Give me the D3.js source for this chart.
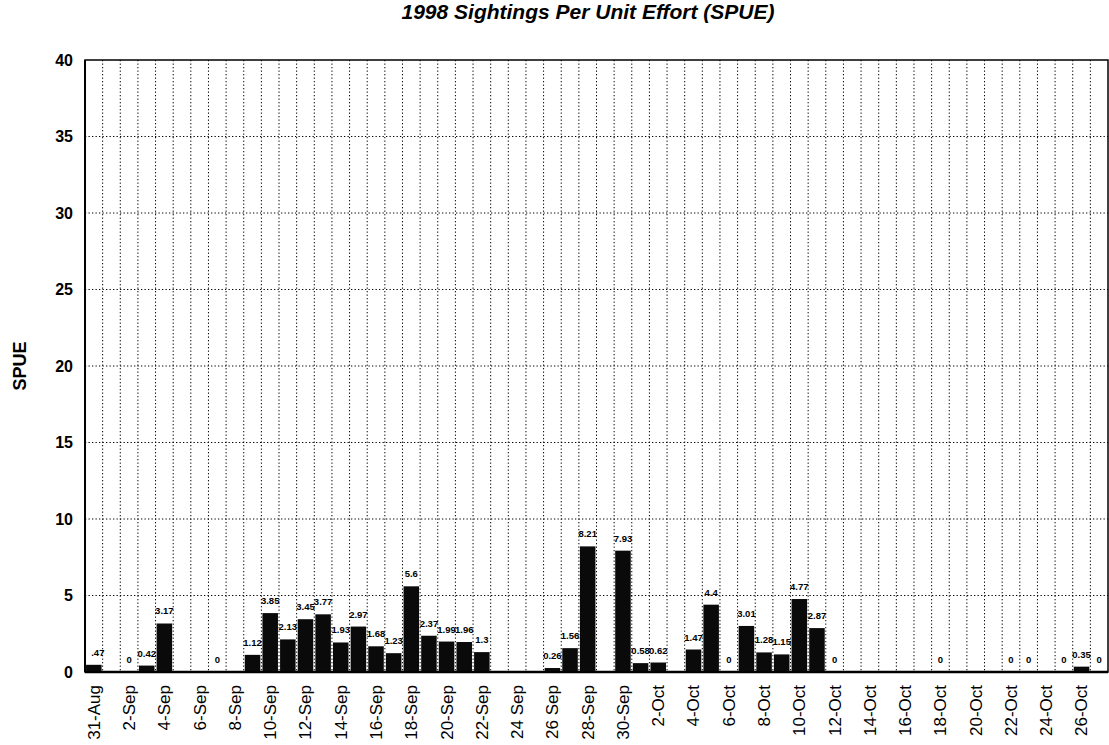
<!DOCTYPE html>
<html lang='en'>
  <head>
    <meta charset="utf-8">
    <style>
      body { margin: 0; background: #ffffff; }
      text { font-family: "Liberation Sans", Arial, sans-serif; fill: #000000; }
    </style>
    <title>1998 SPUE</title>
    <script src="https://d3js.org/d3.v7.min.js"></script>
  </head>
  <body>
    <div id="chart"></div>
  <script>
    // one slot per day, 31-Aug to 27-Oct
    var days = ["31-Aug","1-Sep","2-Sep","3-Sep","4-Sep","5-Sep","6-Sep","7-Sep","8-Sep","9-Sep",
                "10-Sep","11-Sep","12-Sep","13-Sep","14-Sep","15-Sep","16-Sep","17-Sep","18-Sep","19-Sep",
                "20-Sep","21-Sep","22-Sep","23-Sep","24 Sep","25-Sep","26 Sep","27-Sep","28-Sep","29-Sep",
                "30-Sep","1-Oct","2-Oct","3-Oct","4-Oct","5-Oct","6-Oct","7-Oct","8-Oct","9-Oct",
                "10-Oct","11-Oct","12-Oct","13-Oct","14-Oct","15-Oct","16-Oct","17-Oct","18-Oct","19-Oct",
                "20-Oct","21-Oct","22-Oct","23-Oct","24-Oct","25-Oct","26-Oct","27-Oct"];

    // SPUE per day (null = no survey that day)
    var spue = [0.47, null, 0, 0.42, 3.17, null, null, 0, null, 1.12,
                3.85, 2.13, 3.45, 3.77, 1.93, 2.97, 1.68, 1.23, 5.6, 2.37,
                1.99, 1.96, 1.3, null, null, null, 0.26, 1.56, 8.21, null,
                7.93, 0.58, 0.62, null, 1.47, 4.4, 0, 3.01, 1.28, 1.15,
                4.77, 2.87, 0, null, null, null, null, null, 0, null,
                null, null, 0, 0, null, 0, 0.35, 0];

    // value labels as printed over the bars
    var valueLabels = [".47", "", "0", "0.42", "3.17", "", "", "0", "", "1.12",
                "3.85", "2.13", "3.45", "3.77", "1.93", "2.97", "1.68", "1.23", "5.6", "2.37",
                "1.99", "1.96", "1.3", "", "", "", "0.26", "1.56", "8.21", "",
                "7.93", "0.58", "0.62", "", "1.47", "4.4", "0", "3.01", "1.28", "1.15",
                "4.77", "2.87", "0", "", "", "", "", "", "0", "",
                "", "", "0", "0", "", "0", "0.35", "0"];

    var yTicks = [0, 5, 10, 15, 20, 25, 30, 35, 40];

    var margin = {top: 60, right: 1, bottom: 73, left: 85},
        width = 1109 - margin.left - margin.right,
        height = 745 - margin.top - margin.bottom;

    var svg = d3.select("#chart")
      .append("svg")
        .attr("width", 1109)
        .attr("height", 745);

    var g = svg.append("g")
        .attr("transform", "translate(" + margin.left + "," + margin.top + ")");

    var x = d3.scaleBand()
      .domain(days)
      .range([0, width])
      .paddingInner(0.12)
      .paddingOuter(0.06);

    var y = d3.scaleLinear()
      .domain([0, 40])
      .range([height, 0]);

    var step = x.step();

    // dotted grid: horizontal every 5, vertical between days
    g.selectAll("hgrid")
      .data(yTicks.slice(1, -1))
      .enter()
      .append("line")
        .attr("x1", 0).attr("x2", width)
        .attr("y1", function(d) { return y(d) })
        .attr("y2", function(d) { return y(d) })
        .attr("stroke", "#000")
        .attr("stroke-width", 1)
        .attr("stroke-dasharray", "1.3,2.2");

    g.selectAll("vgrid")
      .data(days.slice(1))
      .enter()
      .append("line")
        .attr("x1", function(d) { return x(d) - step * 0.06 })
        .attr("x2", function(d) { return x(d) - step * 0.06 })
        .attr("y1", 0).attr("y2", height)
        .attr("stroke", "#000")
        .attr("stroke-width", 1)
        .attr("stroke-dasharray", "1.3,2.2");

    // bars and their labels, drawn day by day
    var rows = days.map(function(d, i) { return {day: d, value: spue[i], label: valueLabels[i]} });

    var cell = g.selectAll("cells")
      .data(rows)
      .enter()
      .append("g");

    cell.filter(function(d) { return d.value !== null && d.value > 0 })
      .append("rect")
        .attr("x", function(d) { return x(d.day) })
        .attr("width", x.bandwidth())
        .attr("y", function(d) { return y(d.value) })
        .attr("height", function(d) { return height - y(d.value) })
        .attr("fill", "#0a0a0a");

    cell.filter(function(d) { return d.label !== "" })
      .append("text")
        .attr("x", function(d) { return x(d.day) + x.bandwidth() / 2 + (d.label === ".47" ? 4 : 0) })
        .attr("y", function(d) { return y(d.value) - 9 })
        .attr("text-anchor", "middle")
        .style("font-size", "9.5px")
        .style("font-weight", "bold")
        .text(function(d) { return d.label });

    // frame
    g.append("rect")
      .attr("x", 0).attr("y", 0)
      .attr("width", width).attr("height", height)
      .attr("fill", "none")
      .attr("stroke", "#000")
      .attr("stroke-width", 1.5);
    g.append("line")
      .attr("x1", 0).attr("x2", width)
      .attr("y1", height).attr("y2", height)
      .attr("stroke", "#000").attr("stroke-width", 2.5);
    g.append("line")
      .attr("x1", 0).attr("x2", 0)
      .attr("y1", 0).attr("y2", height)
      .attr("stroke", "#000").attr("stroke-width", 2);

    // y axis labels
    g.selectAll("ylab")
      .data(yTicks)
      .enter()
      .append("text")
        .attr("x", -12)
        .attr("y", function(d) { return y(d) })
        .attr("dy", "0.35em")
        .attr("text-anchor", "end")
        .style("font-size", "16px")
        .style("font-weight", "bold")
        .text(function(d) { return d });

    // x axis labels, every other day
    g.selectAll("xlab")
      .data(days.filter(function(d, i) { return i % 2 === 0 }))
      .enter()
      .append("text")
        .attr("transform", function(d) {
          return "translate(" + (x(d) + x.bandwidth() / 2) + "," + (height + 13) + ") rotate(-90)" })
        .attr("dy", "0.35em")
        .attr("text-anchor", "end")
        .style("font-size", "17px")
        .text(function(d) { return d });

    // axis title
    svg.append("text")
      .attr("transform", "translate(20," + (margin.top + y(20)) + ") rotate(-90)")
      .attr("dy", "0.35em")
      .attr("text-anchor", "middle")
      .style("font-size", "18px")
      .style("font-weight", "bold")
      .text("SPUE");

    // chart title
    svg.append("text")
      .attr("x", 588)
      .attr("y", 19)
      .attr("text-anchor", "middle")
      .style("font-size", "21px")
      .style("font-weight", "bold")
      .style("font-style", "italic")
      .text("1998 Sightings Per Unit Effort (SPUE)");
  </script>
  </body>
</html>
